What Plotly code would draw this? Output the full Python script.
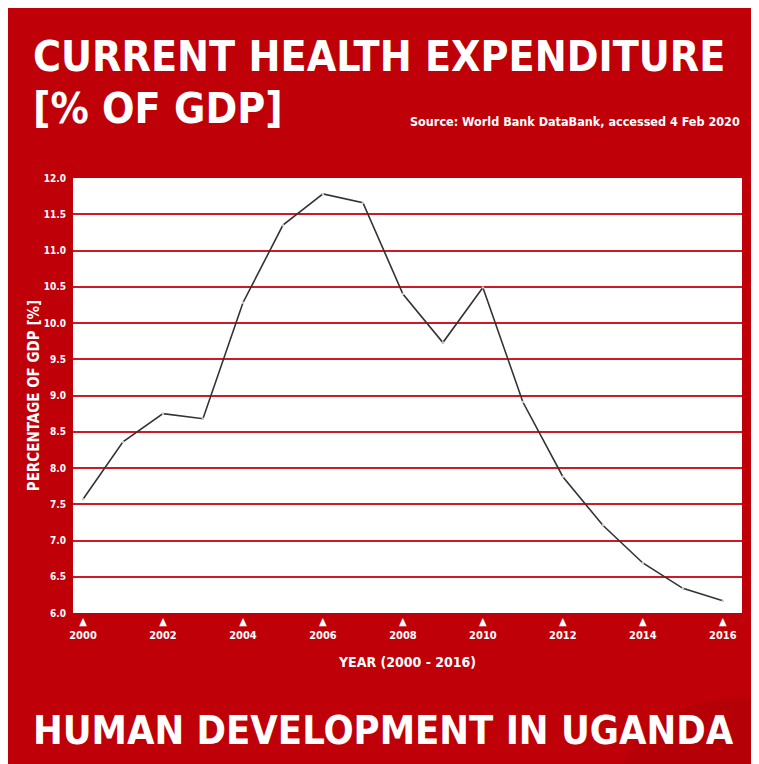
import plotly.graph_objects as go

years = list(range(2000, 2017))
health_exp = [7.57, 8.36, 8.75, 8.68, 10.28, 11.35, 11.78, 11.66, 10.40, 9.73,
              10.49, 8.91, 7.88, 7.21, 6.69, 6.34, 6.17]
x_tick_vals = [2000, 2002, 2004, 2006, 2008, 2010, 2012, 2014, 2016]
y_tick_vals = [6.0, 6.5, 7.0, 7.5, 8.0, 8.5, 9.0, 9.5, 10.0, 10.5, 11.0, 11.5, 12.0]

RED = "#c00008"
GRID = "#cc1a26"
W, H = 759, 764
OFF = 8  # page body margin
L, R, T, B = 65, 25, 170, 159
PW, PH = W - L - R, H - T - B


def fx(px):
    return (px - OFF - L) / PW


def fy(py):
    return (H - B - (py - OFF)) / PH


FONT = "DejaVu Sans Condensed, DejaVu Sans, sans-serif"

fig = go.Figure()
fig.add_trace(go.Scatter(
    x=years, y=health_exp, mode="lines+markers",
    line=dict(color="#333333", width=1.6),
    marker=dict(size=2.5, color="#cccccc"),
    hoverinfo="x+y", showlegend=False,
))

# subtle dark circle at bottom-right (as in the reference)
fig.add_shape(type="circle", xref="paper", yref="paper",
              x0=fx(615), x1=fx(860), y0=fy(900), y1=fy(698),
              fillcolor="rgba(40,0,0,0.07)", line=dict(width=0), layer="below")

fig.update_layout(
    width=W, height=H,
    margin=dict(l=L, r=R, t=T, b=B),
    paper_bgcolor=RED,
    plot_bgcolor="white",
    xaxis=dict(
        range=[1999.75, 2016.48],
        tickvals=x_tick_vals,
        ticktext=["▲<br>" + str(v) for v in x_tick_vals],
        tickfont=dict(family=FONT, size=11, color="white", weight="bold"),
        ticklabelstandoff=0,
        showgrid=False, zeroline=False, showline=False,
        title=dict(text="YEAR (2000 - 2016)", standoff=15,
                   font=dict(family=FONT, size=14, color="white", weight="bold")),
        fixedrange=True,
    ),
    yaxis=dict(
        range=[6.0, 12.0],
        tickvals=y_tick_vals,
        ticktext=[f"{v:.1f}" for v in y_tick_vals],
        tickfont=dict(family=FONT, size=10, color="white", weight="bold"),
        ticklabelstandoff=6,
        showgrid=True, gridcolor=GRID, gridwidth=2,
        zeroline=False, showline=False,
        title=dict(text="PERCENTAGE OF GDP [%]", standoff=0,
                   font=dict(family=FONT, size=15, color="white", weight="bold")),
        fixedrange=True,
    ),
    annotations=[
        dict(text="CURRENT HEALTH EXPENDITURE", xref="paper", yref="paper",
             x=fx(31), y=fy(57), xanchor="left", yanchor="middle", showarrow=False,
             font=dict(family=FONT, size=42.5, color="white", weight="bold")),
        dict(text="[% OF GDP]", xref="paper", yref="paper",
             x=fx(31), y=fy(109), xanchor="left", yanchor="middle", showarrow=False,
             font=dict(family=FONT, size=42.5, color="white", weight="bold")),
        dict(text="Source: World Bank DataBank, accessed 4 Feb 2020", xref="paper", yref="paper",
             x=fx(742), y=fy(122), xanchor="right", yanchor="middle", showarrow=False,
             font=dict(family=FONT, size=12.5, color="white", weight="bold")),
        dict(text="HUMAN DEVELOPMENT IN UGANDA", xref="paper", yref="paper",
             x=fx(31), y=fy(730), xanchor="left", yanchor="middle", showarrow=False,
             font=dict(family=FONT, size=39.5, color="white", weight="bold")),
    ],
)

fig.write_html("out.html")
